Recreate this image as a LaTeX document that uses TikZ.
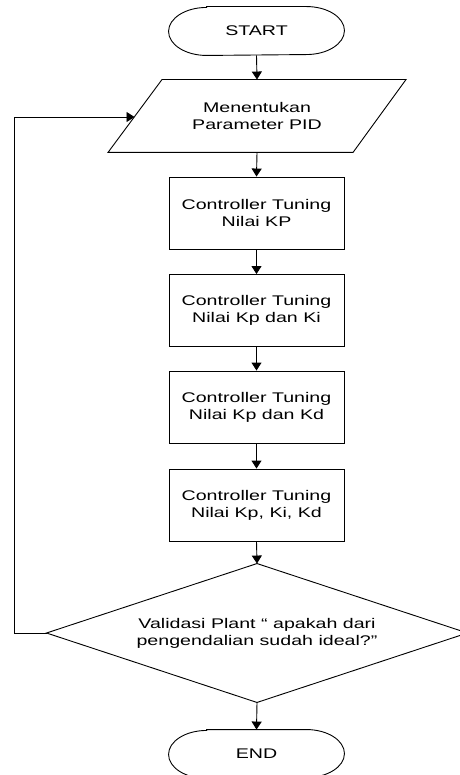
\documentclass[tikz,border=0pt]{standalone}
\usepackage{fontspec}
\setmainfont[FakeStretch=1.4]{Liberation Sans}
\usetikzlibrary{arrows.meta}
\begin{document}
\begin{tikzpicture}[x=1pt,y=-1pt,
  line width=0.9pt,
  every node/.style={font=\fontsize{14}{17}\selectfont, align=center, inner sep=0pt},
  procbox/.style={draw, rectangle, minimum width=175pt, minimum height=72pt},
  termbox/.style={rectangle, minimum width=175pt, minimum height=48pt},
  decbox/.style={rectangle, minimum width=420pt, minimum height=138pt},
  flow/.style={-{Triangle[length=8pt,width=10pt]}}
]
\useasboundingbox (0,0) rectangle (459,775);

% terminal START
\node[termbox] (start) at (256.5,31) {START};
\draw ([xshift=38pt]start.north west) -- ([xshift=-38pt]start.north east)
  arc[start angle=90,end angle=-90,x radius=38pt,y radius=24pt]
  -- ([xshift=38pt]start.south west)
  arc[start angle=270,end angle=90,x radius=38pt,y radius=24pt] -- cycle;

% parallelogram
\node[minimum width=190pt, minimum height=72pt] (param) at (257,116) {Menentukan\\Parameter PID};
\draw ([xshift=-95pt]param.north) -- ([xshift=149pt]param.north)
  -- ([xshift=96pt]param.south) -- ([xshift=-149pt]param.south) -- cycle;
\coordinate (loopend) at (134.5,117);

% process boxes
\node[procbox] (b1) at (256.5,213) {Controller Tuning\\Nilai KP};
\node[procbox] (b2) at (256.5,310.5) {Controller Tuning\\Nilai Kp dan Ki};
\node[procbox] (b3) at (256.5,407) {Controller Tuning\\Nilai Kp dan Kd};
\node[procbox] (b4) at (256.5,505) {Controller Tuning\\Nilai Kp, Ki, Kd};

% decision
\node[decbox] (dec) at (257,633) {Validasi Plant “ apakah dari\\pengendalian sudah ideal?”};
\draw (dec.north) -- (dec.east) -- (dec.south) -- (dec.west) -- cycle;

% terminal END
\node[termbox] (end) at (256.5,754) {END};
\draw ([xshift=38pt]end.north west) -- ([xshift=-38pt]end.north east)
  arc[start angle=90,end angle=-90,x radius=38pt,y radius=24pt]
  -- ([xshift=38pt]end.south west)
  arc[start angle=270,end angle=90,x radius=38pt,y radius=24pt] -- cycle;

% connectors
\draw[flow] (start.south) -- (param.north);
\draw[flow] (param.south) -- (b1.north);
\draw[flow] (b1.south) -- (b2.north);
\draw[flow] (b2.south) -- (b3.north);
\draw[flow] (b3.south) -- (b4.north);
\draw[flow] (b4.south) -- (dec.north);
\draw[flow] (dec.south) -- (end.north);
\draw[flow] (dec.west) -- (14,633) |- (loopend);
\end{tikzpicture}
\end{document}
